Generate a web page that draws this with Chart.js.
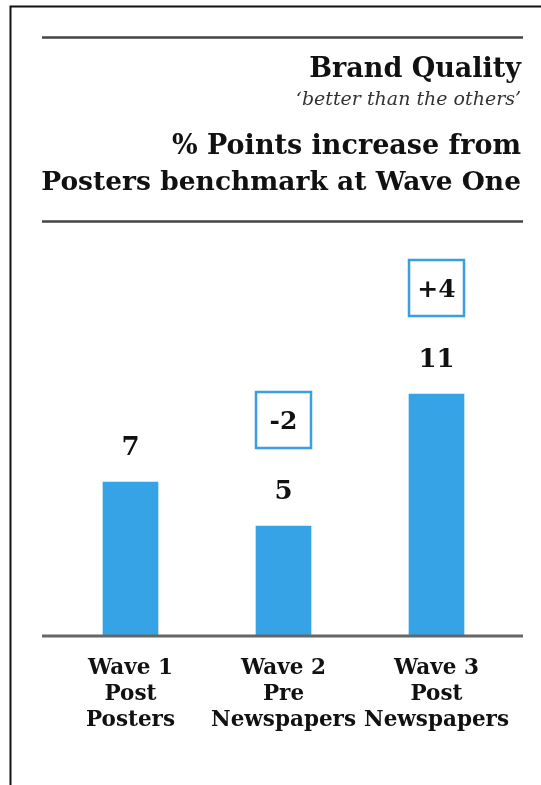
<!DOCTYPE html>
<html>
<head>
<meta charset="utf-8">
<script src="https://cdn.jsdelivr.net/npm/chart.js@4.4.1/dist/chart.umd.min.js"></script>
<style>
  html, body { margin: 0; padding: 0; background: #fff; }
  canvas { display: block; }
</style>
</head>
<body>
<canvas id="chart" width="541" height="785"></canvas>
<script>
// data
const waves = [["Wave 1", "Post", "Posters"], ["Wave 2", "Pre", "Newspapers"], ["Wave 3", "Post", "Newspapers"]];
const points = [7, 5, 11];
const change = [null, "-2", "+4"];

const headerLines = [
    { text: "Brand Quality", font: "bold 27px 'DejaVu Serif'", color: "#111", y: 77 },
    { text: "\u2018better than the others\u2019", font: "italic 19px 'DejaVu Serif'", color: "#333", y: 105 },
    { text: "% Points increase from", font: "bold 27px 'DejaVu Serif'", color: "#111", y: 154 },
    { text: "Posters benchmark at Wave One", font: "bold 26.5px 'DejaVu Serif'", color: "#111", y: 190 }
];

const barBlue = "#36a3e6";

// frame, header rules, baseline, value labels and change boxes
const decor = {
    id: "decor",
    beforeDraw(c) {
        const ctx = c.ctx;
        ctx.save();
        ctx.fillStyle = "#fff";
        ctx.fillRect(0, 0, c.width, c.height);
        // outer frame (top + left only visible)
        ctx.strokeStyle = "#111";
        ctx.lineWidth = 2;
        ctx.beginPath();
        ctx.moveTo(10.5, 785);
        ctx.lineTo(10.5, 6.5);
        ctx.lineTo(541, 6.5);
        ctx.stroke();
        // header rules
        ctx.strokeStyle = "#444";
        ctx.lineWidth = 2.5;
        [37.5, 221.5].forEach(y => {
            ctx.beginPath();
            ctx.moveTo(42, y);
            ctx.lineTo(523, y);
            ctx.stroke();
        });
        ctx.textAlign = "right";
        ctx.textBaseline = "alphabetic";
        headerLines.forEach(l => {
            ctx.font = l.font;
            ctx.fillStyle = l.color;
            ctx.fillText(l.text, 521, l.y);
        });
        ctx.restore();
    },
    afterDatasetsDraw(c) {
        const ctx = c.ctx;
        const meta = c.getDatasetMeta(0);
        const y0 = c.scales.y.getPixelForValue(0);
        ctx.save();
        // baseline
        ctx.strokeStyle = "#666";
        ctx.lineWidth = 3;
        ctx.beginPath();
        ctx.moveTo(42, y0);
        ctx.lineTo(523, y0);
        ctx.stroke();

        ctx.textAlign = "center";
        ctx.textBaseline = "alphabetic";
        meta.data.forEach((bar, i) => {
            ctx.fillStyle = "#111";
            ctx.font = "bold 26px 'DejaVu Serif'";
            ctx.fillText(String(points[i]), bar.x, bar.y - 27);
            if (change[i]) {
                const cy = bar.y - 106;
                ctx.strokeStyle = "#3a9fe0";
                ctx.lineWidth = 2.5;
                ctx.strokeRect(bar.x - 27.5, cy - 28, 55, 56);
                ctx.fillStyle = "#111";
                ctx.font = "bold 25px 'DejaVu Serif'";
                ctx.fillText(change[i], bar.x, cy + 9);
            }
        });
        ctx.restore();
    }
};

new Chart(document.getElementById("chart").getContext("2d"), {
    type: "bar",
    data: {
        labels: waves,
        datasets: [{
            data: points,
            backgroundColor: barBlue,
            borderWidth: 0,
            barThickness: 55
        }]
    },
    options: {
        responsive: false,
        animation: false,
        devicePixelRatio: 1,
        layout: { padding: { top: 262, left: 54, right: 28, bottom: 0 } },
        plugins: {
            legend: { display: false },
            tooltip: { enabled: false }
        },
        scales: {
            x: {
                grid: { display: false, drawTicks: false },
                border: { display: false },
                ticks: {
                    color: "#111",
                    padding: 19,
                    maxRotation: 0,
                    font: { family: "'DejaVu Serif'", weight: "bold", size: 21.5, lineHeight: 1.22 }
                },
                afterFit(scale) { scale.height = 149; }
            },
            y: {
                display: false,
                min: 0,
                max: 17
            }
        }
    },
    plugins: [decor]
});
</script>
</body>
</html>
